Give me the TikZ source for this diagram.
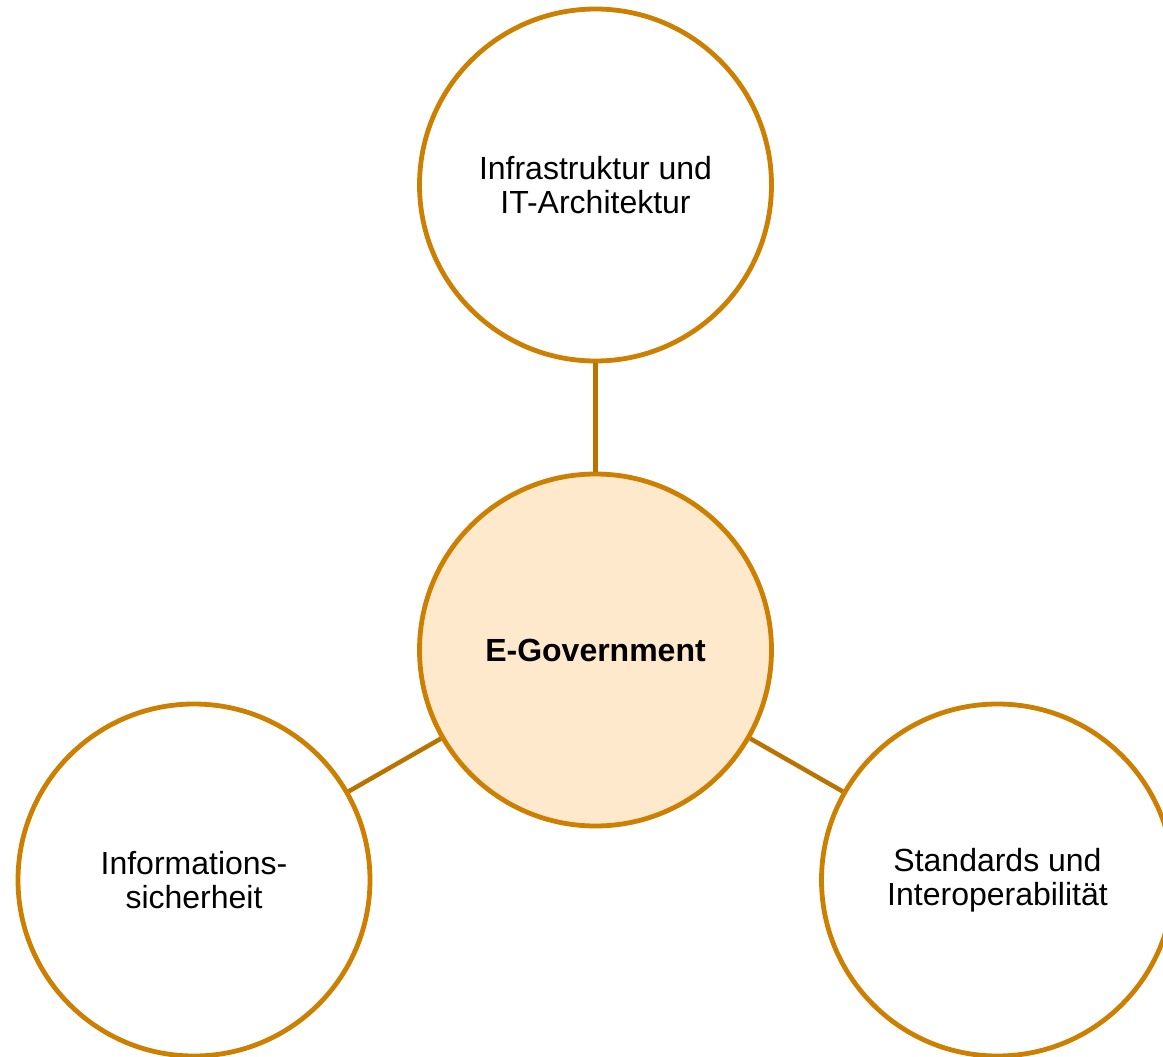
\documentclass[tikz,border=0pt]{standalone}
\usepackage{fontspec}
\setmainfont{Liberation Sans}
\definecolor{ringc}{HTML}{CC7F00}
\definecolor{linkc}{HTML}{B87300}
\definecolor{fillc}{HTML}{FFE9CC}
\begin{document}
\begin{tikzpicture}[x=1pt,y=-1pt,
  ring/.style={circle,draw=ringc,line width=4.8pt,fill=white,minimum size=352pt,inner sep=0pt,align=center,
    font=\fontsize{32pt}{34pt}\selectfont},
  hub/.style={ring,fill=fillc,font=\fontsize{32pt}{34pt}\selectfont\bfseries},
  link/.style={draw=linkc,line width=4.5pt}]
\useasboundingbox (0,0) rectangle (1163,1057);
\clip (0,0) rectangle (1163,1057);
\node[hub] (c) at (595.5,650) {E-Government};
\node[ring] (t) at (595.5,185) {Infrastruktur und\\IT-Architektur};
\node[ring] (l) at (194,880) {Informations-\\sicherheit};
\node[ring] (r) at (997.5,880) {Standards und\\Interoperabilität};
\draw[link] (c) -- (t);
\draw[link] (c) -- (l);
\draw[link] (c) -- (r);
\end{tikzpicture}
\end{document}
